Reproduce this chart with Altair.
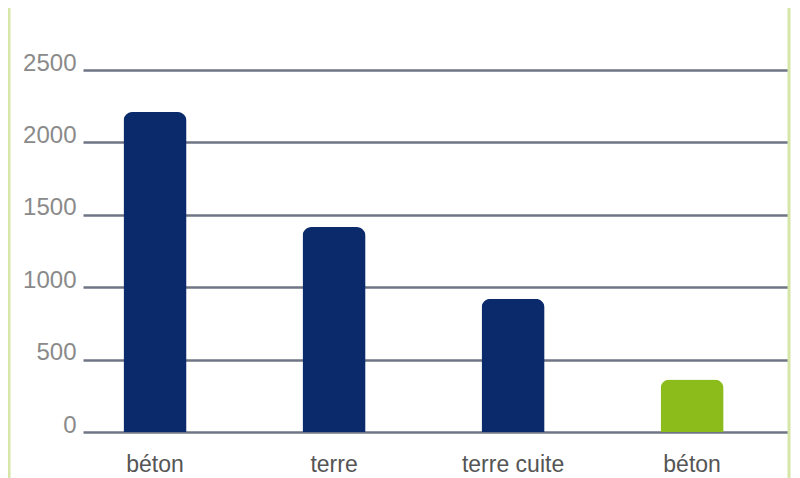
import json
import altair as alt
import pandas as pd

# ---- data ----
categories = ["béton", "terre", "terre cuite", "béton"]
values = [2210, 1415, 920, 362]
groups = ["autre", "autre", "autre", "vert"]
y_ticks = [0, 500, 1000, 1500, 2000, 2500]

df = pd.DataFrame({
    "idx": list(range(len(categories))),
    "label": categories,
    "valeur": values,
    "groupe": groups,
})

FONT = "Liberation Sans, Arial, sans-serif"
label_expr = json.dumps(categories, ensure_ascii=False) + "[datum.value]"

x = alt.X(
    "idx:O",
    scale=alt.Scale(paddingInner=0.648, paddingOuter=0.293, align=0.386, round=False),
    axis=alt.Axis(
        title=None, labelExpr=label_expr, labelAngle=0, ticks=False, domain=False,
        labelPadding=21, labelFont=FONT, labelFontSize=23, labelColor="#555555",
        grid=False,
    ),
)
y = alt.Y(
    "valeur:Q",
    scale=alt.Scale(domain=[0, 2500], nice=False, zero=True),
    axis=alt.Axis(
        title=None, values=y_ticks, format="d", ticks=False, domain=False,
        grid=True, gridColor="#6f7585", gridWidth=2.5,
        labelFont=FONT, labelFontSize=24, labelColor="#8a8a8a",
        labelBaseline="alphabetic", labelPadding=7,
    ),
)

bars = alt.Chart(df).mark_bar(cornerRadiusTopLeft=9, cornerRadiusTopRight=9).encode(
    x=x,
    y=y,
    color=alt.Color(
        "groupe:N",
        scale=alt.Scale(domain=["autre", "vert"], range=["#0b2a6c", "#8cbc1c"]),
        legend=None,
    ),
)

border_df = pd.DataFrame({"side": ["gauche", "droite"], "px": [-74, 706]})
borders = alt.Chart(border_df).mark_rule(color="#d6e6a8", strokeWidth=3).encode(
    x=alt.X("px:Q", scale=None),
    y=alt.value(-62),
    y2=alt.value(408),
)

chart = alt.layer(bars, borders).properties(
    width=705,
    height=362,
    padding={"left": 75, "top": 62, "right": 4, "bottom": 46},
    autosize=alt.AutoSizeParams(type="none"),
    background="white",
).configure_view(stroke=None)

chart.save("out.html", embed_options={"renderer": "svg", "actions": False})
